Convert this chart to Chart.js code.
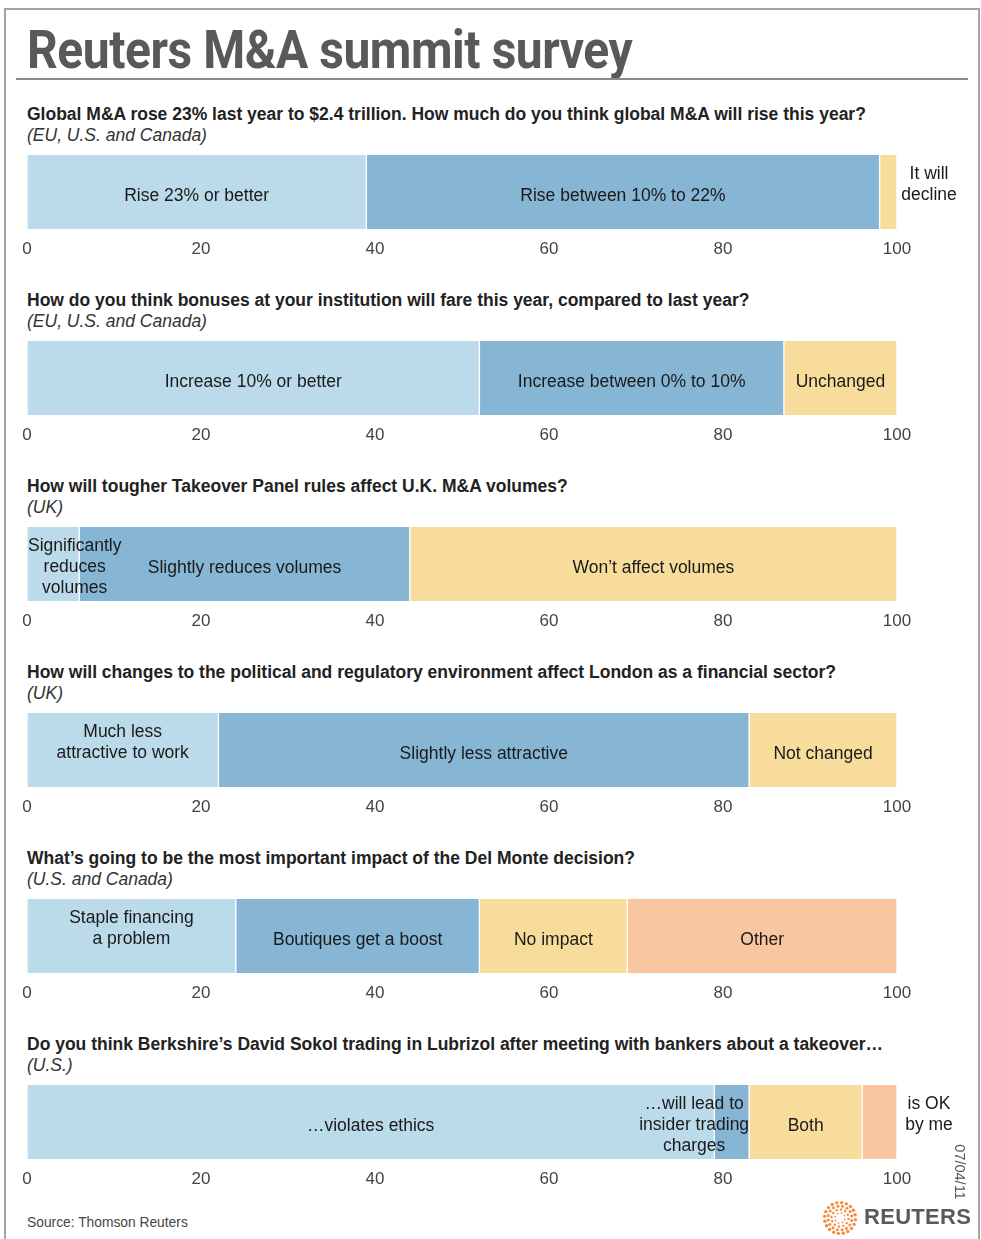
<!DOCTYPE html>
<html>
<head>
<meta charset="utf-8">
<script src="https://cdn.jsdelivr.net/npm/chart.js@4"></script>
<style>
  html, body { margin: 0; padding: 0; background: #fff; }
  body { width: 981px; height: 1239px; position: relative; overflow: hidden;
         font-family: "Liberation Sans", Arial, sans-serif; }
  #frame { position: absolute; left: 4px; top: 8px; width: 972px; height: 1260px;
           border: 2px solid #a3a3a3; border-bottom: none; }
  #title { position: absolute; left: 27px; top: 22px; font-size: 53px; line-height: 56px;
           font-weight: bold; color: #58595b; white-space: nowrap; transform-origin: 0 0;
           font-family: Roboto, "Liberation Sans", sans-serif; letter-spacing: -0.5px; }
  #rule { position: absolute; left: 16px; top: 78px; width: 952px; height: 2px; background: #8a8a8a; }
  .question { position: absolute; left: 27px; font-size: 17.5px; line-height: 21px;
              font-weight: bold; color: #222; white-space: nowrap; }
  .region { position: absolute; left: 27px; font-size: 17.5px; line-height: 21px;
            font-style: italic; color: #333; white-space: nowrap; }
  .panel { position: absolute; left: 0; width: 981px; height: 114px; }
  #source { position: absolute; left: 27px; top: 1215px; font-size: 13.8px; color: #444; }
  #date { position: absolute; left: 960px; top: 1172px; font-size: 14.5px; color: #555;
          white-space: nowrap; transform: translate(-50%, -50%) rotate(90deg); }
  #logo { position: absolute; left: 820px; top: 1198px; }
  #logotext { position: absolute; left: 864px; top: 1204px; font-size: 22px; font-weight: bold;
              color: #58595b; letter-spacing: 0.3px; }
</style>
</head>
<body>
<div id="frame"></div>
<div id="title">Reuters M&amp;A summit survey</div>
<div id="rule"></div>
<div id="panels"></div>
<div id="source">Source: Thomson Reuters</div>
<div id="date">07/04/11</div>
<canvas id="logo" width="40" height="40"></canvas>
<div id="logotext">REUTERS</div>

<script>
// ---------- DATA ----------
const questions = [
  "Global M&A rose 23% last year to $2.4 trillion. How much do you think global M&A will rise this year?",
  "How do you think bonuses at your institution will fare this year, compared to last year?",
  "How will tougher Takeover Panel rules affect U.K. M&A volumes?",
  "How will changes to the political and regulatory environment affect London as a financial sector?",
  "What\u2019s going to be the most important impact of the Del Monte decision?",
  "Do you think Berkshire\u2019s David Sokol trading in Lubrizol after meeting with bankers about a takeover\u2026"
];
const regions = [
  "(EU, U.S. and Canada)",
  "(EU, U.S. and Canada)",
  "(UK)",
  "(UK)",
  "(U.S. and Canada)",
  "(U.S.)"
];
const answers = [
  ["Rise 23% or better", "Rise between 10% to 22%", "It will\ndecline"],
  ["Increase 10% or better", "Increase between 0% to 10%", "Unchanged"],
  ["Significantly\nreduces\nvolumes", "Slightly reduces volumes", "Won\u2019t affect volumes"],
  ["Much less\nattractive to work", "Slightly less attractive", "Not changed"],
  ["Staple financing\na problem", "Boutiques get a boost", "No impact", "Other"],
  ["\u2026violates ethics", "\u2026will lead to\ninsider trading\ncharges", "Both", "is OK\nby me"]
];
const shares = [
  [39, 59, 2],
  [52, 35, 13],
  [6, 38, 56],
  [22, 61, 17],
  [24, 28, 17, 31],
  [79, 4, 13, 4]
];
const tickValues = [0, 20, 40, 60, 80, 100];

// label placement per segment (center unless listed)
const labelAnchors = [
  ["center", "center", "outside"],
  ["center", "center", "center"],
  ["start", "center", "center"],
  ["center", "center", "center"],
  ["center", "center", "center", "center"],
  ["center", "end", "center", "outside"]
];

const palette = ["#bbdaea", "#87b6d5", "#f7dc9b", "#f9c6a2"];

// ---------- SEGMENT LABELS ----------
const segmentLabels = {
  id: "segmentLabels",
  afterDatasetsDraw(chart) {
    const ctx = chart.ctx;
    const area = chart.chartArea;
    ctx.save();
    ctx.font = '17.5px "Liberation Sans", Arial, sans-serif';
    ctx.fillStyle = "#1a1a1a";
    ctx.textBaseline = "middle";
    ctx.textAlign = "center";
    chart.data.datasets.forEach((ds, i) => {
      const bar = chart.getDatasetMeta(i).data[0];
      const lines = ds.label.split("\n");
      const maxW = Math.max(...lines.map((l) => ctx.measureText(l).width));
      let cx = (bar.base + bar.x) / 2;
      if (ds.labelAnchor === "start") cx = bar.base + maxW / 2 + 1;
      if (ds.labelAnchor === "end") cx = bar.x - maxW / 2;
      if (ds.labelAnchor === "outside") cx = area.right + 32;
      let y = lines.length === 1 ? bar.y + 4 : bar.y - 18;
      lines.forEach((l) => {
        ctx.fillText(l, cx, y);
        y += 21;
      });
    });
    ctx.restore();
  }
};

// ---------- BUILD PANELS ----------
const panelsEl = document.getElementById("panels");

questions.forEach((q, p) => {
  const top = 186 * p;

  const qEl = document.createElement("div");
  qEl.className = "question";
  qEl.style.top = (104 + top) + "px";
  qEl.textContent = q;
  panelsEl.appendChild(qEl);

  const rEl = document.createElement("div");
  rEl.className = "region";
  rEl.style.top = (125 + top) + "px";
  rEl.textContent = regions[p];
  panelsEl.appendChild(rEl);

  const box = document.createElement("div");
  box.className = "panel";
  box.style.top = (150 + top) + "px";
  const canvas = document.createElement("canvas");
  box.appendChild(canvas);
  panelsEl.appendChild(box);

  new Chart(canvas, {
    type: "bar",
    data: {
      labels: [""],
      datasets: shares[p].map((v, i) => ({
        label: answers[p][i],
        data: [v],
        labelAnchor: labelAnchors[p][i],
        backgroundColor: palette[i],
        borderColor: "#ffffff",
        borderWidth: { left: 1, right: 1, top: 0, bottom: 0 },
        borderSkipped: false,
        barPercentage: 1,
        categoryPercentage: 1
      }))
    },
    options: {
      indexAxis: "y",
      responsive: true,
      maintainAspectRatio: false,
      animation: false,
      layout: { padding: { left: 27, right: 84, top: 5, bottom: 0 } },
      plugins: { legend: { display: false }, tooltip: { enabled: false } },
      scales: {
        x: {
          stacked: true,
          min: 0,
          max: 100,
          afterBuildTicks: (axis) => {
            axis.ticks = tickValues.map((v) => ({ value: v }));
          },
          afterFit: (axis) => { axis.height = 35; },
          grid: { display: false, drawTicks: false },
          border: { display: false },
          ticks: {
            padding: 10,
            color: "#444",
            font: { family: '"Liberation Sans", Arial, sans-serif', size: 17 },
            maxRotation: 0
          }
        },
        y: { stacked: true, display: false }
      }
    },
    plugins: [segmentLabels]
  });
});

// ---------- TITLE FIT ----------
const title = document.getElementById("title");
title.style.transform = "scaleX(" + (605 / title.offsetWidth) + ")";

// ---------- LOGO DOTS ----------
const lg = document.getElementById("logo").getContext("2d");
lg.fillStyle = "#f58b3f";
[[5, 8, 0.9], [8.5, 12, 1.2], [12, 16, 1.5], [15.5, 20, 1.7]].forEach(([r, n, s]) => {
  for (let k = 0; k < n; k++) {
    const a = (k / n) * Math.PI * 2 + r;
    lg.beginPath();
    lg.arc(20 + r * Math.cos(a), 20 + r * Math.sin(a), s, 0, Math.PI * 2);
    lg.fill();
  }
});
</script>
</body>
</html>
